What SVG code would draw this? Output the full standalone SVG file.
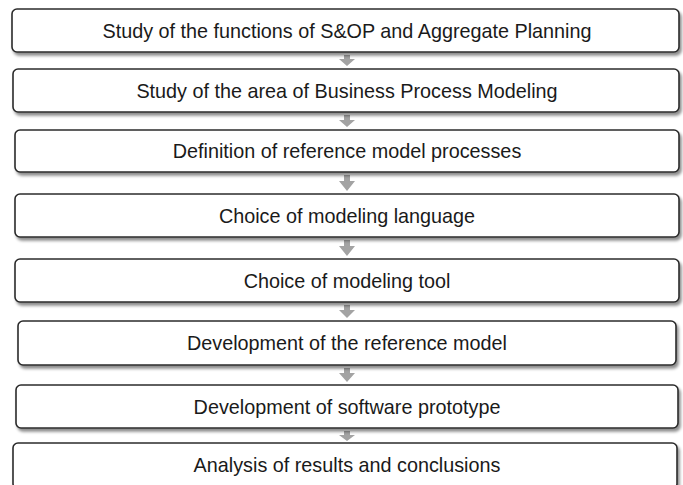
<svg xmlns="http://www.w3.org/2000/svg" width="683" height="485" viewBox="0 0 683 485">
<defs>
<filter id="sh" x="-5%" y="-30%" width="110%" height="170%">
<feDropShadow dx="2" dy="3" stdDeviation="1.8" flood-color="#000" flood-opacity="0.45"/>
</filter>
</defs>
<style>
.box{fill:#fff;stroke:#2b2b2b;stroke-width:1.6;filter:url(#sh)}
.lbl{font-family:"Liberation Sans",Arial,sans-serif;font-size:19.8px;fill:#1a1a1a;text-anchor:middle}
.arr{fill:#a3a3a3}
</style>
<g id="connectors">
<polygon class="arr" points="344,55 350,55 350,59 355,59 347,66 339,59 344,59"/>
<polygon class="arr" points="344,115 350,115 350,120 355,120 347,127 339,120 344,120"/>
<polygon class="arr" points="344,175 350,175 350,181 355,181 347,191 339,181 344,181"/>
<polygon class="arr" points="344,240 350,240 350,246 355,246 347,256 339,246 344,246"/>
<polygon class="arr" points="344,305 350,305 350,310 355,310 347,318 339,310 344,310"/>
<polygon class="arr" points="344,368 350,368 350,373 355,373 347,382 339,373 344,373"/>
<polygon class="arr" points="344,431 350,431 350,435 355,435 347,441 339,435 344,435"/>
</g>
<g id="n1"><rect class="box" x="12" y="9" width="667" height="43" rx="5"/><text class="lbl" x="347" y="37.5">Study of the functions of S&amp;OP and Aggregate Planning</text></g>
<g id="n2"><rect class="box" x="13" y="69" width="666" height="43" rx="5"/><text class="lbl" x="347" y="97.5">Study of the area of Business Process Modeling</text></g>
<g id="n3"><rect class="box" x="15" y="130" width="664" height="42" rx="5"/><text class="lbl" x="347" y="158">Definition of reference model processes</text></g>
<g id="n4"><rect class="box" x="15" y="194" width="664" height="43" rx="5"/><text class="lbl" x="347" y="222.5">Choice of modeling language</text></g>
<g id="n5"><rect class="box" x="15" y="259" width="664" height="43" rx="5"/><text class="lbl" x="347" y="287.5">Choice of modeling tool</text></g>
<g id="n6"><rect class="box" x="18" y="321" width="658" height="44" rx="5"/><text class="lbl" x="347" y="350">Development of the reference model</text></g>
<g id="n7"><rect class="box" x="16" y="385" width="662" height="43" rx="5"/><text class="lbl" x="347" y="413.5">Development of software prototype</text></g>
<g id="n8"><rect class="box" x="13" y="443" width="664" height="46" rx="5"/><text class="lbl" x="347" y="471.5">Analysis of results and conclusions</text></g>
</svg>
